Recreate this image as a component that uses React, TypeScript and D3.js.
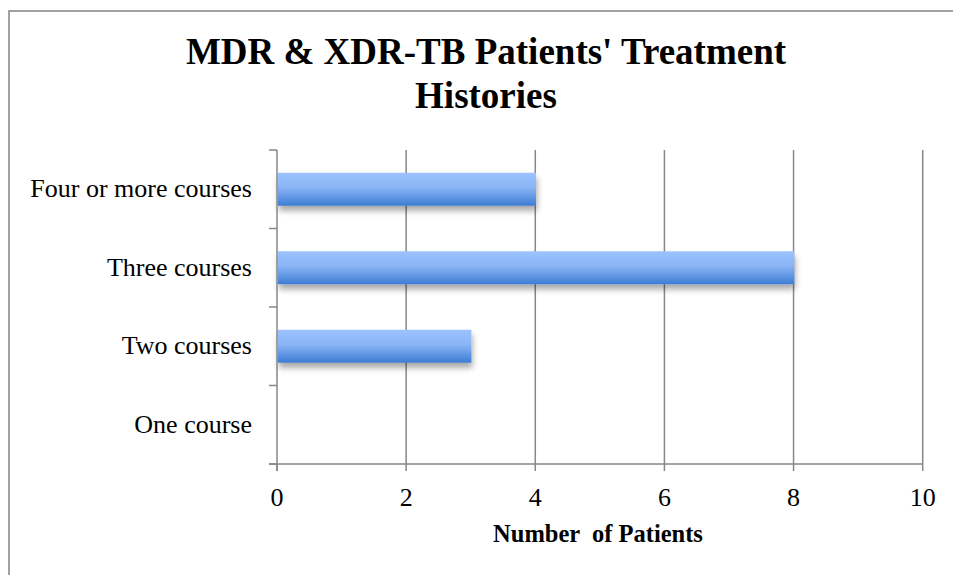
import React, { useEffect, useRef } from "react";
import * as d3 from "d3";

const categories = ["One course", "Two courses", "Three courses", "Four or more courses"];
const patients = [0, 3, 8, 4];
const xTicks = [0, 2, 4, 6, 8, 10];
const titleLines = ["MDR & XDR-TB Patients' Treatment", "Histories"];
const xAxisTitle = "Number  of Patients";

export default function App() {
  const ref = useRef<SVGSVGElement>(null);
  useEffect(() => {
    const svg = d3.select(ref.current);
    svg.selectAll("*").remove();
    const W = 953, H = 575;
    const left = 277, right = 922.7, top = 150, bottom = 464;
    const font = "'Liberation Serif', 'Times New Roman', serif";
    const grid = "#878787";

    const defs = svg.append("defs");
    const grad = defs.append("linearGradient").attr("id", "barGrad").attr("x1", 0).attr("y1", 0).attr("x2", 0).attr("y2", 1);
    grad.append("stop").attr("offset", "0%").attr("stop-color", "#9cc3ff");
    grad.append("stop").attr("offset", "45%").attr("stop-color", "#8ab4f5");
    grad.append("stop").attr("offset", "100%").attr("stop-color", "#3d7dd4");
    const filt = defs.append("filter").attr("id", "shadow").attr("x", "-10%").attr("y", "-20%").attr("width", "130%").attr("height", "160%");
    filt.append("feGaussianBlur").attr("in", "SourceAlpha").attr("stdDeviation", 3);
    filt.append("feOffset").attr("dx", 1).attr("dy", 5).attr("result", "b");
    filt.append("feComponentTransfer").append("feFuncA").attr("type", "linear").attr("slope", 0.35);
    const m = filt.append("feMerge");
    m.append("feMergeNode");
    m.append("feMergeNode").attr("in", "SourceGraphic");

    svg.append("rect").attr("x", 0).attr("y", 0).attr("width", W).attr("height", H).attr("fill", "#fff");
    // frame
    svg.append("rect").attr("x", 9).attr("y", 11).attr("width", W + 20).attr("height", H + 20)
      .attr("fill", "none").attr("stroke", "#8a8a8a").attr("stroke-width", 1.6);

    const x = d3.scaleLinear().domain([0, 10]).range([left, right]);
    const y = d3.scaleBand().domain(categories).range([bottom, top]).paddingInner(0.58).paddingOuter(0.29);
    const yb = d3.scaleBand().domain(categories).range([bottom, top]);

    // gridlines
    svg.append("g").selectAll("line").data(xTicks.slice(1)).join("line")
      .attr("x1", d => x(d)).attr("x2", d => x(d)).attr("y1", top).attr("y2", bottom)
      .attr("stroke", grid).attr("stroke-width", 1.5);

    // bars
    svg.append("g").selectAll("rect").data(categories).join("rect")
      .attr("x", x(0) + 0.7)
      .attr("y", d => y(d)!)
      .attr("width", (d, i) => Math.max(x(patients[i]) - x(0), 0.01))
      .attr("height", y.bandwidth())
      .attr("fill", "url(#barGrad)")
      .attr("filter", "url(#shadow)");

    // y axis
    svg.append("line").attr("x1", left).attr("x2", left).attr("y1", top).attr("y2", bottom + 7)
      .attr("stroke", grid).attr("stroke-width", 1.5);
    const yTickPos = [...categories.map(c => yb(c)!), bottom];
    svg.append("g").selectAll("line").data(yTickPos).join("line")
      .attr("x1", left - 8).attr("x2", left).attr("y1", d => d).attr("y2", d => d)
      .attr("stroke", grid).attr("stroke-width", 1.5);
    // x axis
    svg.append("line").attr("x1", left - 8).attr("x2", right).attr("y1", bottom).attr("y2", bottom)
      .attr("stroke", grid).attr("stroke-width", 1.5);
    svg.append("g").selectAll("line").data(xTicks).join("line")
      .attr("x1", d => x(d)).attr("x2", d => x(d)).attr("y1", bottom).attr("y2", bottom + 7)
      .attr("stroke", grid).attr("stroke-width", 1.5);

    svg.append("g").selectAll("text").data(xTicks).join("text")
      .attr("x", d => x(d)).attr("y", 506).attr("text-anchor", "middle")
      .attr("font-family", font).attr("font-size", 26).attr("fill", "#000").text(d => d);

    svg.append("g").selectAll("text").data(categories).join("text")
      .attr("x", 252).attr("y", d => yb(d)! + yb.bandwidth() / 2 + 8).attr("text-anchor", "end")
      .attr("font-family", font).attr("font-size", 26).attr("fill", "#000").text(d => d);

    svg.append("text").attr("x", 598).attr("y", 542).attr("text-anchor", "middle")
      .attr("font-family", font).attr("font-size", 24.5).attr("font-weight", "bold")
      .attr("xml:space", "preserve").style("white-space", "pre").text(xAxisTitle);

    svg.append("g").selectAll("text").data(titleLines).join("text")
      .attr("x", 486).attr("y", (d, i) => 64 + i * 44).attr("text-anchor", "middle")
      .attr("font-family", font).attr("font-size", 37).attr("font-weight", "bold").text(d => d);
  }, []);
  return (
    <svg ref={ref} width={953} height={575} style={{ position: "absolute", left: 0, top: 0, display: "block" }} />
  );
}
